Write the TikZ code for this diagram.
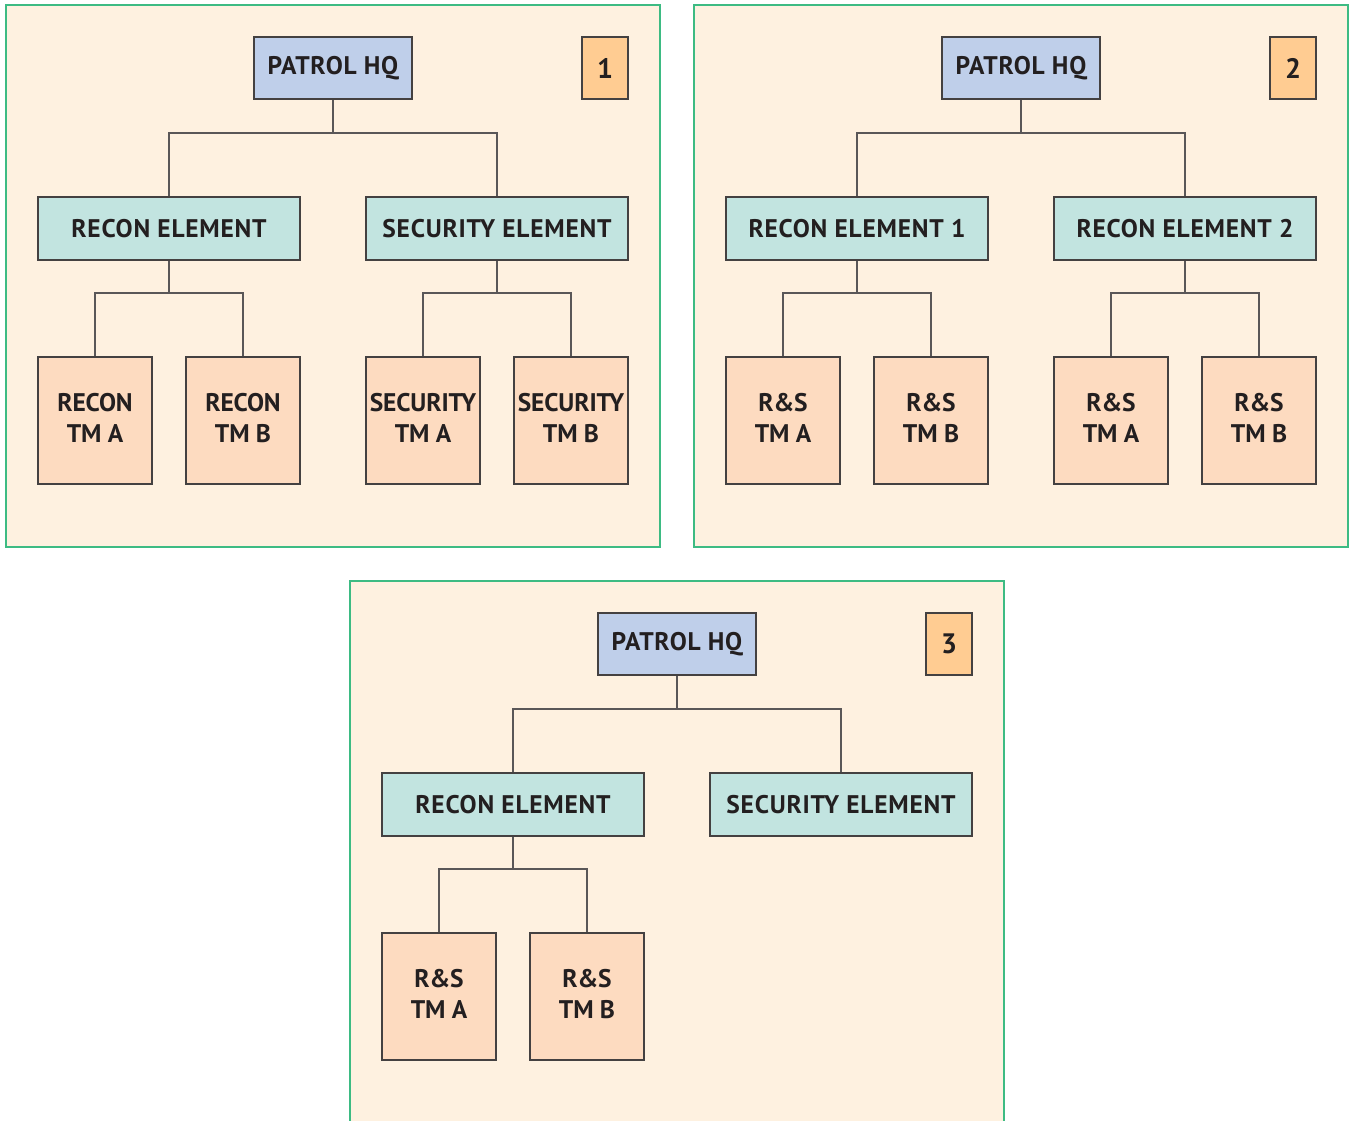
\documentclass[tikz,border=0pt]{standalone}
\usepackage{fontspec}
\setmainfont[LetterSpace=3]{PT Sans}
\usetikzlibrary{calc}
\definecolor{panelbg}{HTML}{FEF1E0}
\definecolor{panelline}{HTML}{3DBB83}
\definecolor{hqfill}{HTML}{BFCFEA}
\definecolor{elfill}{HTML}{C2E4E0}
\definecolor{tmfill}{HTML}{FDDBC0}
\definecolor{numfill}{HTML}{FFCC92}
\definecolor{ink}{HTML}{231F20}
\tikzset{
    box/.style = {draw=ink!85, line width=0.9pt, rectangle, text=ink,
        font=\fontsize{14.5}{17.6}\selectfont\bfseries, inner sep=0pt},
    hq/.style = {box, fill=hqfill, minimum width=3.16cm, minimum height=1.24cm},
    elem/.style = {box, fill=elfill, minimum width=5.24cm, minimum height=1.26cm},
    team/.style = {box, fill=tmfill, align=center, text depth=0.12cm,
        font=\fontsize{14.5}{17.6}\selectfont\bfseries\addfontfeature{LetterSpace=-0.5},
        minimum width=2.28cm, minimum height=2.54cm},
    num/.style = {box, fill=numfill, minimum width=0.92cm, minimum height=1.24cm,
        font=\fontsize{16}{18}\selectfont\bfseries},
    panel/.style = {draw=panelline, line width=1pt, fill=panelbg},
    link/.style = {draw=ink!75, line width=0.9pt}
}
\begin{document}
\begin{tikzpicture}[x=0.02cm, y=-0.02cm]
    \useasboundingbox (0,0) rectangle (1349,1120);
    % panels
    \draw[panel] (6,5) rectangle (660,547);
    \draw[panel] (694,5) rectangle (1348,547);
    \fill[panelbg] (350,581) rectangle (1004,1121);
    \draw[panelline, line width=1pt] (350,1121) -- (350,581) -- (1004,581) -- (1004,1121);

    % panel 1
    \node[hq] (hqA) at (333,68) {PATROL HQ};
    \node[num] (numA) at (605,68) {1};
    \node[elem] (reA) at (169,228.5) {RECON ELEMENT};
    \node[elem] (seA) at (497,228.5) {SECURITY ELEMENT};
    \node[team] (rtaA) at (95,420.5) {RECON\\TM A};
    \node[team] (rtbA) at (243,420.5) {RECON\\TM B};
    \node[team] (staA) at (423,420.5) {SECURITY\\TM A};
    \node[team] (stbA) at (571,420.5) {SECURITY\\TM B};
    \draw[link] (hqA.south) -- ++(0,33) -| (reA.north);
    \draw[link] (hqA.south) -- ++(0,33) -| (seA.north);
    \draw[link] (reA.south) -- ++(0,32) -| (rtaA.north);
    \draw[link] (reA.south) -- ++(0,32) -| (rtbA.north);
    \draw[link] (seA.south) -- ++(0,32) -| (staA.north);
    \draw[link] (seA.south) -- ++(0,32) -| (stbA.north);

    % panel 2
    \node[hq] (hqB) at (1021,68) {PATROL HQ};
    \node[num] (numB) at (1293,68) {2};
    \node[elem] (reB) at (857,228.5) {RECON ELEMENT 1};
    \node[elem] (rfB) at (1185,228.5) {RECON ELEMENT 2};
    \node[team] (taB) at (783,420.5) {R\&S\\TM A};
    \node[team] (tbB) at (931,420.5) {R\&S\\TM B};
    \node[team] (tcB) at (1111,420.5) {R\&S\\TM A};
    \node[team] (tdB) at (1259,420.5) {R\&S\\TM B};
    \draw[link] (hqB.south) -- ++(0,33) -| (reB.north);
    \draw[link] (hqB.south) -- ++(0,33) -| (rfB.north);
    \draw[link] (reB.south) -- ++(0,32) -| (taB.north);
    \draw[link] (reB.south) -- ++(0,32) -| (tbB.north);
    \draw[link] (rfB.south) -- ++(0,32) -| (tcB.north);
    \draw[link] (rfB.south) -- ++(0,32) -| (tdB.north);

    % panel 3
    \node[hq] (hqC) at (677,644) {PATROL HQ};
    \node[num] (numC) at (949,644) {3};
    \node[elem] (reC) at (513,804.5) {RECON ELEMENT};
    \node[elem] (seC) at (841,804.5) {SECURITY ELEMENT};
    \node[team] (taC) at (439,996.5) {R\&S\\TM A};
    \node[team] (tbC) at (587,996.5) {R\&S\\TM B};
    \draw[link] (hqC.south) -- ++(0,33) -| (reC.north);
    \draw[link] (hqC.south) -- ++(0,33) -| (seC.north);
    \draw[link] (reC.south) -- ++(0,32) -| (taC.north);
    \draw[link] (reC.south) -- ++(0,32) -| (tbC.north);
\end{tikzpicture}
\end{document}
